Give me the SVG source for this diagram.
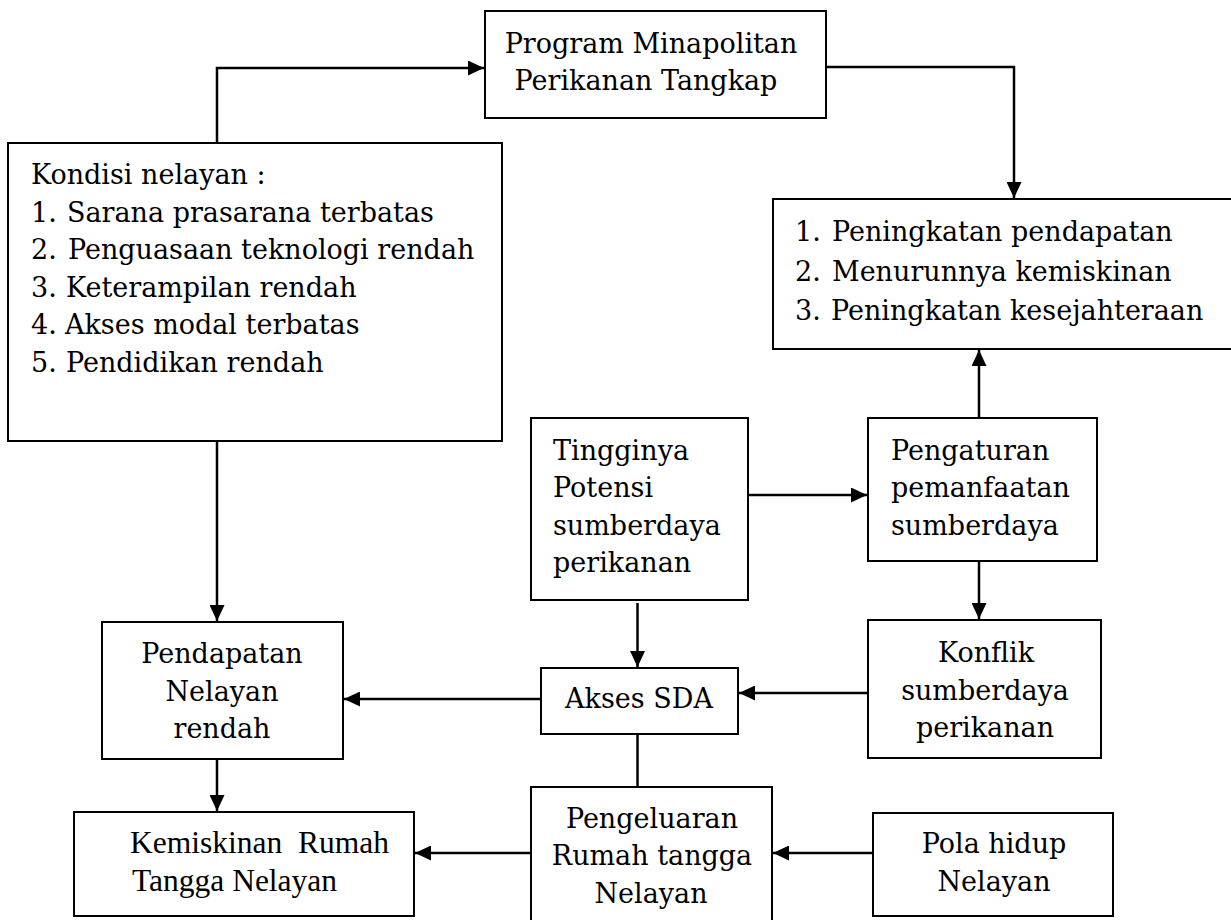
<svg xmlns="http://www.w3.org/2000/svg" width="1231" height="920" viewBox="0 0 1231 920">
<defs>
<style>
.box{fill:#fff;stroke:#000;stroke-width:2}
.t{font-family:"DejaVu Serif","Liberation Serif",serif;font-size:27px;fill:#000}
.tc{font-family:"DejaVu Serif","Liberation Serif",serif;font-size:27px;fill:#000;text-anchor:middle}
.tr{font-family:"Liberation Serif",serif;font-size:31.5px;fill:#000}
.ln{fill:none;stroke:#000;stroke-width:2.5}
</style>
<marker id="ah" markerUnits="userSpaceOnUse" markerWidth="16" markerHeight="15" refX="16" refY="7.5" orient="auto">
<path d="M0,0 L16,7.5 L0,15 z" fill="#000"/>
</marker>
</defs>
<rect width="1231" height="920" fill="#fff"/>
<g id="connectors">
<path class="ln" d="M217,143 V68 H484" marker-end="url(#ah)"/>
<path class="ln" d="M826,67 H1014 V198" marker-end="url(#ah)"/>
<path class="ln" d="M979,418 V350" marker-end="url(#ah)"/>
<path class="ln" d="M748,495 H867" marker-end="url(#ah)"/>
<path class="ln" d="M979,561 V619" marker-end="url(#ah)"/>
<path class="ln" d="M637.5,603 V667" marker-end="url(#ah)"/>
<path class="ln" d="M868,693 H739" marker-end="url(#ah)"/>
<path class="ln" d="M541,699 H344" marker-end="url(#ah)"/>
<path class="ln" d="M217,441 V621" marker-end="url(#ah)"/>
<path class="ln" d="M217,759 V811" marker-end="url(#ah)"/>
<path class="ln" d="M637.5,734 V787"/>
<path class="ln" d="M531,853 H415" marker-end="url(#ah)"/>
<path class="ln" d="M873,853 H773" marker-end="url(#ah)"/>
</g>
<g id="program">
<rect class="box" x="485" y="11" width="341" height="107"/>
<text class="tc" x="651" y="53">Program Minapolitan</text>
<text class="tc" x="646" y="90">Perikanan Tangkap</text>
</g>
<g id="kondisi">
<rect class="box" x="8" y="143" width="494" height="298"/>
<text class="t" x="31" y="184">Kondisi nelayan :</text>
<text class="t" y="222"><tspan x="31">1.</tspan><tspan x="67">Sarana prasarana terbatas</tspan></text>
<text class="t" y="259"><tspan x="31">2.</tspan><tspan x="68">Penguasaan teknologi rendah</tspan></text>
<text class="t" y="297"><tspan x="31">3.</tspan><tspan x="66">Keterampilan rendah</tspan></text>
<text class="t" y="334"><tspan x="31">4.</tspan><tspan x="65">Akses modal terbatas</tspan></text>
<text class="t" y="372"><tspan x="31">5.</tspan><tspan x="66">Pendidikan rendah</tspan></text>
</g>
<g id="hasil">
<rect class="box" x="773" y="199" width="464" height="150"/>
<text class="t" y="241"><tspan x="795">1.</tspan><tspan x="832">Peningkatan pendapatan</tspan></text>
<text class="t" y="281"><tspan x="795">2.</tspan><tspan x="832">Menurunnya kemiskinan</tspan></text>
<text class="t" y="320"><tspan x="795">3.</tspan><tspan x="831">Peningkatan kesejahteraan</tspan></text>
</g>
<g id="tingginya">
<rect class="box" x="531" y="418" width="217" height="182"/>
<text class="t" x="553" y="460">Tingginya</text>
<text class="t" x="553" y="497">Potensi</text>
<text class="t" x="553" y="535">sumberdaya</text>
<text class="t" x="553" y="572">perikanan</text>
</g>
<g id="pengaturan">
<rect class="box" x="868" y="418" width="229" height="143"/>
<text class="t" x="891" y="460">Pengaturan</text>
<text class="t" x="891" y="497">pemanfaatan</text>
<text class="t" x="891" y="535">sumberdaya</text>
</g>
<g id="konflik">
<rect class="box" x="868" y="620" width="233" height="138"/>
<text class="tc" x="986" y="662">Konflik</text>
<text class="tc" x="985" y="700">sumberdaya</text>
<text class="tc" x="985" y="737">perikanan</text>
</g>
<g id="akses">
<rect class="box" x="541" y="668" width="197" height="66"/>
<text class="tc" x="639" y="708">Akses SDA</text>
</g>
<g id="pendapatan">
<rect class="box" x="102" y="622" width="241" height="137"/>
<text class="tc" x="222" y="663">Pendapatan</text>
<text class="tc" x="222" y="701">Nelayan</text>
<text class="tc" x="222" y="738">rendah</text>
</g>
<g id="kemiskinan">
<rect class="box" x="74" y="812" width="340" height="104"/>
<text class="tr" x="130" y="853" xml:space="preserve">Kemiskinan  Rumah</text>
<text class="tr" x="132" y="891">Tangga Nelayan</text>
</g>
<g id="pengeluaran">
<rect class="box" x="531" y="787" width="241" height="140"/>
<text class="tc" x="652" y="828">Pengeluaran</text>
<text class="tc" x="652" y="865">Rumah tangga</text>
<text class="tc" x="651" y="903">Nelayan</text>
</g>
<g id="pola">
<rect class="box" x="873" y="813" width="240" height="103"/>
<text class="tc" x="994" y="853">Pola hidup</text>
<text class="tc" x="994" y="891">Nelayan</text>
</g>
</svg>
